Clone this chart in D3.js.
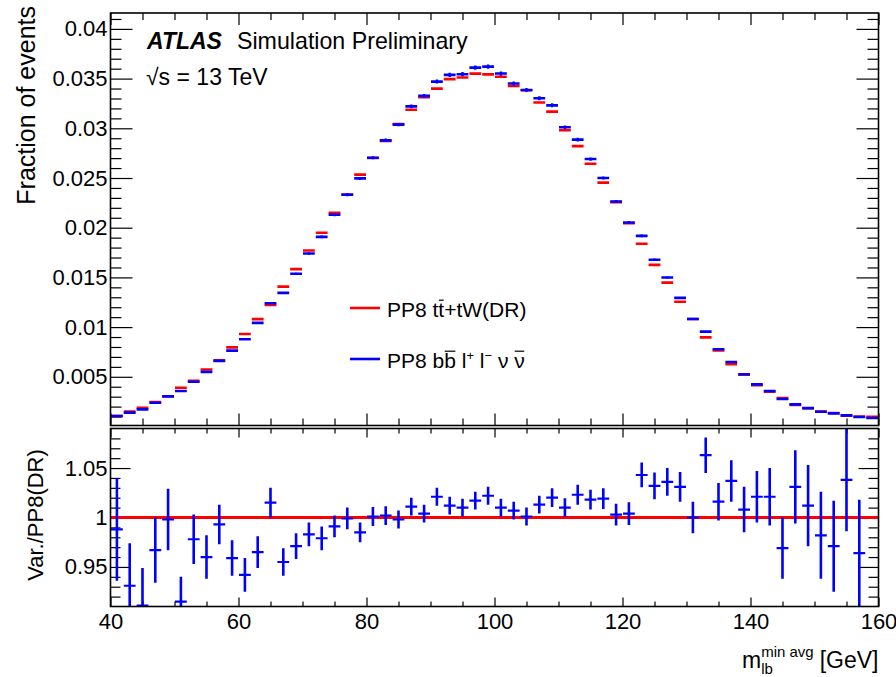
<!DOCTYPE html>
<html><head><meta charset="utf-8">
<script src="https://cdn.jsdelivr.net/npm/d3@7"></script>
<style>
body{margin:0;background:#fff}
svg{display:block}
text{font-family:"Liberation Sans",Arial,Helvetica,sans-serif;fill:#000}
</style>
</head><body>
<svg id="c" width="896" height="677"></svg>
<script>
// ---------------- data ----------------
const binWidth = 2;
const binLow = d3.range(40, 160, binWidth);   // 60 bins, 40..160 GeV

const predRed = [
 0.00106,0.00150,0.00189,0.00247,0.00304,0.00390,0.00460,0.00573,0.00665,0.00796,
 0.00931,0.01080,0.01222,0.01407,0.01583,0.01770,0.01949,0.02149,0.02334,0.02534,
 0.02701,0.02873,0.03043,0.03186,0.03314,0.03399,0.03495,0.03511,0.03550,0.03543,
 0.03518,0.03426,0.03383,0.03260,0.03168,0.02980,0.02821,0.02643,0.02453,0.02257,
 0.02045,0.01839,0.01626,0.01447,0.01255,0.01082,0.00897,0.00765,0.00626,0.00521,
 0.00415,0.00350,0.00285,0.00216,0.00183,0.00151,0.00136,0.00108,0.00099,0.00097];

const predBlue = [
 0.00105,0.00140,0.00172,0.00239,0.00303,0.00357,0.00450,0.00550,0.00660,0.00763,
 0.00877,0.01042,0.01240,0.01344,0.01536,0.01740,0.01908,0.02130,0.02332,0.02496,
 0.02704,0.02879,0.03037,0.03221,0.03326,0.03470,0.03537,0.03544,0.03610,0.03621,
 0.03551,0.03450,0.03386,0.03302,0.03231,0.03010,0.02886,0.02691,0.02500,0.02264,
 0.02053,0.01918,0.01677,0.01499,0.01294,0.01082,0.00954,0.00777,0.00649,0.00525,
 0.00424,0.00357,0.00276,0.00223,0.00185,0.00148,0.00132,0.00112,0.00095,0.00085];

const ratio = [
 0.988,0.931,0.911,0.967,0.998,0.915,0.978,0.960,0.993,0.959,
 0.942,0.965,1.015,0.955,0.971,0.983,0.979,0.991,0.999,0.985,
 1.001,1.002,0.998,1.011,1.004,1.021,1.012,1.010,1.017,1.022,
 1.010,1.007,1.001,1.013,1.020,1.010,1.023,1.018,1.019,1.003,
 1.004,1.043,1.032,1.036,1.031,1.000,1.063,1.016,1.037,1.008,
 1.021,1.021,0.969,1.031,1.012,0.982,0.971,1.038,0.964,0.876];

const ratioErr = [
 0.052,0.043,0.038,0.033,0.031,0.025,0.025,0.022,0.020,0.018,
 0.017,0.016,0.015,0.014,0.013,0.012,0.012,0.011,0.011,0.010,
 0.0095,0.0095,0.009,0.009,0.009,0.009,0.009,0.009,0.009,0.009,
 0.009,0.009,0.009,0.009,0.0095,0.0095,0.010,0.010,0.0105,0.011,
 0.0115,0.0125,0.0135,0.014,0.015,0.016,0.018,0.019,0.021,0.023,
 0.026,0.029,0.031,0.037,0.041,0.044,0.046,0.052,0.054,0.030];

const xTickValues = [40,60,80,100,120,140,160];
const topYTickValues = [0.005,0.01,0.015,0.02,0.025,0.03,0.035,0.04];
const ratioYTickValues = [0.95,1,1.05];
const seriesColors = ["#ff0000","#0000ff"];

// ---------------- layout ----------------
const svg = d3.select("#c");
const L = 110.5, R = 878.5;
const topT = 13, topB = 425.5;
const rT = 428.5, rB = 606.5;
const FONT = '"Liberation Sans",Arial,Helvetica,sans-serif';

const x = d3.scaleLinear().domain([40,160]).range([L,R]);
const yTop = d3.scaleLinear().domain([0.0001,0.0416]).range([topB,topT]);
const yR = d3.scaleLinear().domain([0.91,1.09]).range([rB,rT]);

const bins = binLow.map((lo,i)=>({lo, hi:lo+binWidth, c:lo+binWidth/2,
  red:predRed[i], blue:predBlue[i], r:ratio[i], re:ratioErr[i],
  be:predBlue[i]*ratioErr[i]/ratio[i]}));

const defs = svg.append("defs");
defs.append("clipPath").attr("id","clipTop").append("rect")
  .attr("x",L).attr("y",topT).attr("width",R-L).attr("height",topB-topT);
defs.append("clipPath").attr("id","clipR").append("rect")
  .attr("x",L).attr("y",rT).attr("width",R-L).attr("height",rB-rT);

// ---------------- axes helpers ----------------
function styleAxis(g, fs){
  g.select(".domain").remove();
  g.attr("font-family",FONT).attr("font-size",fs);
  g.selectAll(".tick line").attr("stroke","#000").attr("stroke-width",1.2);
  g.selectAll(".tick text").attr("fill","#000");
}
const minorTop = d3.range(1,42).map(v=>v/1000).filter(v=>Math.round(v*1000)%5!==0);
const minorR = d3.range(92,109).map(v=>v/100).filter(v=>Math.round(v*100)%5!==0);
const minorX = d3.range(40,161,5).filter(v=>v%20!==0);
const fmtTop = d=> String(+d.toFixed(3));
const fmtR = d=> String(+d.toFixed(2));

// top panel ticks
svg.append("g").attr("transform",`translate(${L},0)`)
  .call(d3.axisLeft(yTop).tickValues(topYTickValues).tickSize(-22).tickPadding(3).tickFormat(fmtTop))
  .call(g=>styleAxis(g,22));
svg.append("g").attr("transform",`translate(${L},0)`)
  .call(d3.axisLeft(yTop).tickValues(minorTop).tickSize(-11).tickFormat(""))
  .call(g=>styleAxis(g,22));
svg.append("g").attr("transform",`translate(${R},0)`)
  .call(d3.axisRight(yTop).tickValues(topYTickValues).tickSize(-22).tickFormat(""))
  .call(g=>styleAxis(g,22));
svg.append("g").attr("transform",`translate(${R},0)`)
  .call(d3.axisRight(yTop).tickValues(minorTop).tickSize(-11).tickFormat(""))
  .call(g=>styleAxis(g,22));
svg.append("g").attr("transform",`translate(0,${topB})`)
  .call(d3.axisBottom(x).tickValues(xTickValues).tickSize(-12).tickFormat(""))
  .call(g=>styleAxis(g,22));
svg.append("g").attr("transform",`translate(0,${topB})`)
  .call(d3.axisBottom(x).tickValues(minorX).tickSize(-7).tickFormat(""))
  .call(g=>styleAxis(g,22));
svg.append("g").attr("transform",`translate(0,${topT})`)
  .call(d3.axisTop(x).tickValues(xTickValues).tickSize(-12).tickFormat(""))
  .call(g=>styleAxis(g,22));
svg.append("g").attr("transform",`translate(0,${topT})`)
  .call(d3.axisTop(x).tickValues(minorX).tickSize(-7).tickFormat(""))
  .call(g=>styleAxis(g,22));

// ratio panel ticks
svg.append("g").attr("transform",`translate(${L},0)`)
  .call(d3.axisLeft(yR).tickValues(ratioYTickValues).tickSize(-20).tickPadding(3).tickFormat(fmtR))
  .call(g=>styleAxis(g,22));
svg.append("g").attr("transform",`translate(${L},0)`)
  .call(d3.axisLeft(yR).tickValues(minorR).tickSize(-10).tickFormat(""))
  .call(g=>styleAxis(g,22));
svg.append("g").attr("transform",`translate(${R},0)`)
  .call(d3.axisRight(yR).tickValues(ratioYTickValues).tickSize(-20).tickFormat(""))
  .call(g=>styleAxis(g,22));
svg.append("g").attr("transform",`translate(${R},0)`)
  .call(d3.axisRight(yR).tickValues(minorR).tickSize(-10).tickFormat(""))
  .call(g=>styleAxis(g,22));
svg.append("g").attr("transform",`translate(0,${rB})`)
  .call(d3.axisBottom(x).tickValues(xTickValues).tickSize(-9).tickPadding(7))
  .call(g=>styleAxis(g,22));
svg.append("g").attr("transform",`translate(0,${rB})`)
  .call(d3.axisBottom(x).tickValues(minorX).tickSize(-5).tickFormat(""))
  .call(g=>styleAxis(g,22));
svg.append("g").attr("transform",`translate(0,${rT})`)
  .call(d3.axisTop(x).tickValues(xTickValues).tickSize(-9).tickFormat(""))
  .call(g=>styleAxis(g,22));
svg.append("g").attr("transform",`translate(0,${rT})`)
  .call(d3.axisTop(x).tickValues(minorX).tickSize(-5).tickFormat(""))
  .call(g=>styleAxis(g,22));

// ---------------- top panel marks ----------------
const gTop = svg.append("g").attr("clip-path","url(#clipTop)");
gTop.selectAll("line.red").data(bins).join("line").attr("class","red")
  .attr("x1",d=>x(d.lo)+0.5).attr("x2",d=>x(d.hi)-0.5)
  .attr("y1",d=>yTop(d.red)).attr("y2",d=>yTop(d.red))
  .attr("stroke",seriesColors[0]).attr("stroke-width",2.6);
gTop.selectAll("line.blueh").data(bins).join("line").attr("class","blueh")
  .attr("x1",d=>x(d.lo)+0.5).attr("x2",d=>x(d.hi)-0.5)
  .attr("y1",d=>yTop(d.blue)).attr("y2",d=>yTop(d.blue))
  .attr("stroke",seriesColors[1]).attr("stroke-width",2.6);
gTop.selectAll("line.bluev").data(bins).join("line").attr("class","bluev")
  .attr("x1",d=>x(d.c)).attr("x2",d=>x(d.c))
  .attr("y1",d=>yTop(d.blue-d.be)-1).attr("y2",d=>yTop(d.blue+d.be)+1)
  .attr("stroke",seriesColors[1]).attr("stroke-width",2.4);

// ---------------- ratio panel marks ----------------
const gR = svg.append("g").attr("clip-path","url(#clipR)");
gR.append("line").attr("x1",x(40)).attr("x2",x(160))
  .attr("y1",yR(1)).attr("y2",yR(1))
  .attr("stroke",seriesColors[0]).attr("stroke-width",3);
gR.selectAll("line.rh").data(bins).join("line").attr("class","rh")
  .attr("x1",d=>x(d.lo)+0.5).attr("x2",d=>x(d.hi)-0.5)
  .attr("y1",d=>yR(d.r)).attr("y2",d=>yR(d.r))
  .attr("stroke",seriesColors[1]).attr("stroke-width",2.2);
gR.selectAll("line.rv").data(bins).join("line").attr("class","rv")
  .attr("x1",d=>x(d.c)).attr("x2",d=>x(d.c))
  .attr("y1",d=>yR(d.r-d.re)).attr("y2",d=>yR(d.r+d.re))
  .attr("stroke",seriesColors[1]).attr("stroke-width",2.6);

// ---------------- frames ----------------
svg.append("rect").attr("x",L).attr("y",topT).attr("width",R-L).attr("height",topB-topT)
  .attr("fill","none").attr("stroke","#000").attr("stroke-width",1.6);
svg.append("rect").attr("x",L).attr("y",rT).attr("width",R-L).attr("height",rB-rT)
  .attr("fill","none").attr("stroke","#000").attr("stroke-width",1.6);

// ---------------- texts ----------------
svg.append("text").attr("x",147).attr("y",49).attr("font-size",23)
  .attr("font-weight","bold").attr("font-style","italic").text("ATLAS");
svg.append("text").attr("x",237).attr("y",49).attr("font-size",23.2).text("Simulation Preliminary");
svg.append("text").attr("x",146).attr("y",85).attr("font-size",23).text("\u221As = 13 TeV");

svg.append("text").attr("transform","translate(35,6) rotate(-90)")
  .attr("text-anchor","end").attr("font-size",25).text("Fraction of events");
svg.append("text").attr("transform","translate(43,515) rotate(-90)")
  .attr("text-anchor","middle").attr("font-size",22).text("Var./PP8(DR)");

// x-axis title: m_lb^{min avg} [GeV]
{
  const base = 668;
  const t1 = svg.append("text").attr("x",R).attr("y",base).attr("font-size",23)
    .attr("text-anchor","end").text("[GeV]");
  const s1 = R - t1.node().getComputedTextLength();
  const sup = svg.append("text").attr("x",s1-6).attr("y",base-11).attr("font-size",15)
    .attr("text-anchor","end").text("min avg");
  const s2 = s1 - 6 - sup.node().getComputedTextLength();
  svg.append("text").attr("x",s2).attr("y",base+6).attr("font-size",15).text("lb");
  svg.append("text").attr("x",s2).attr("y",base).attr("font-size",23)
    .attr("text-anchor","end").text("m");
}

// legend
function overline(textSel, idx, fs){
  const n = textSel.node();
  const a = n.getStartPositionOfChar(idx), b = n.getEndPositionOfChar(idx);
  svg.append("line").attr("x1",a.x+0.5).attr("x2",b.x-0.5)
    .attr("y1",a.y-0.8*fs).attr("y2",a.y-0.8*fs)
    .attr("stroke","#000").attr("stroke-width",1.2);
}
{
  const fs = 21;
  svg.append("line").attr("x1",350).attr("x2",380).attr("y1",308).attr("y2",308)
    .attr("stroke",seriesColors[0]).attr("stroke-width",2.6);
  const t1 = svg.append("text").attr("x",387).attr("y",317).attr("font-size",fs)
    .text("PP8 tt+tW(DR)");
  overline(t1,5,fs);

  svg.append("line").attr("x1",350).attr("x2",380).attr("y1",359).attr("y2",359)
    .attr("stroke",seriesColors[1]).attr("stroke-width",2.6);
  const t2 = svg.append("text").attr("x",387).attr("y",368).attr("font-size",fs);
  t2.append("tspan").text("PP8 bb l");
  t2.append("tspan").attr("dy",-8).attr("font-size",13).text("+");
  t2.append("tspan").attr("dy",8).text(" l");
  t2.append("tspan").attr("dy",-8).attr("font-size",13).text("\u2212");
  t2.append("tspan").attr("dy",8).text(" \u03BD \u03BD");
  overline(t2,5,fs);
  overline(t2,15,fs);
}
</script>
</body></html>
